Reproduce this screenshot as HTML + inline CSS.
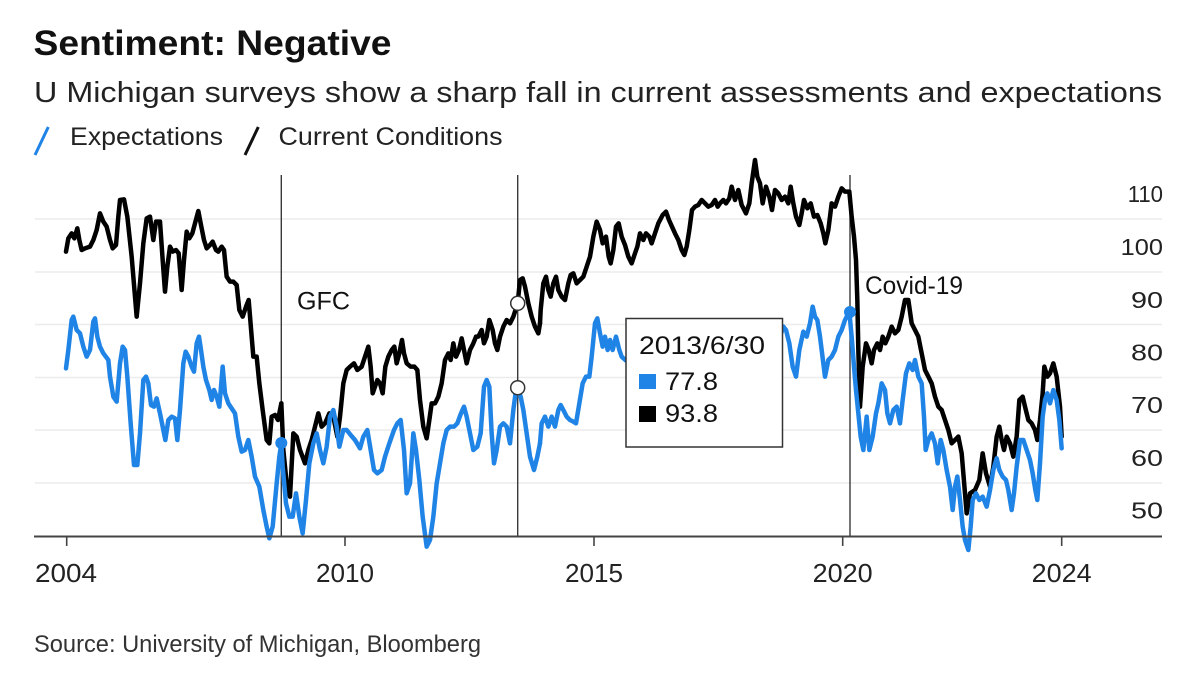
<!DOCTYPE html>
<html>
<head>
<meta charset="utf-8">
<style>
  html,body{margin:0;padding:0;background:#fff;}
  svg{display:block;}
  text{font-family:"Liberation Sans", Arial, sans-serif;}
  .ln{fill:none;stroke-width:4.5;stroke-linejoin:round;stroke-linecap:round;}
</style>
</head>
<body>
<svg width="1200" height="678" viewBox="0 0 1200 678" xmlns="http://www.w3.org/2000/svg">
  <rect x="0" y="0" width="1200" height="678" fill="#fff"/>

  <!-- Title / subtitle -->
  <text x="33.5" y="55" font-size="35" font-weight="bold" fill="#111" textLength="358" lengthAdjust="spacingAndGlyphs">Sentiment: Negative</text>
  <text x="34" y="102" font-size="29" fill="#222" textLength="1128" lengthAdjust="spacingAndGlyphs">U Michigan surveys show a sharp fall in current assessments and expectations</text>

  <!-- Legend -->
  <line x1="35" y1="155" x2="48.3" y2="127" stroke="#1f84e6" stroke-width="3"/>
  <text x="70" y="145" font-size="25" fill="#222" textLength="153" lengthAdjust="spacingAndGlyphs">Expectations</text>
  <line x1="245" y1="155" x2="258.3" y2="127" stroke="#111" stroke-width="3"/>
  <text x="278.5" y="145" font-size="25" fill="#222" textLength="224" lengthAdjust="spacingAndGlyphs">Current Conditions</text>

  <!-- Gridlines -->
  <g stroke="#ececec" stroke-width="1.5">
    <line x1="35" y1="219" x2="1162" y2="219"/>
    <line x1="35" y1="272" x2="1162" y2="272"/>
    <line x1="35" y1="324.5" x2="1162" y2="324.5"/>
    <line x1="35" y1="377.5" x2="1162" y2="377.5"/>
    <line x1="35" y1="430" x2="1162" y2="430"/>
    <line x1="35" y1="483" x2="1162" y2="483"/>
  </g>

  <!-- Y labels -->
  <g font-size="23" fill="#222" text-anchor="end">
    <text x="1163" y="202" textLength="35.3" lengthAdjust="spacingAndGlyphs">110</text>
    <text x="1163" y="255" textLength="42.3" lengthAdjust="spacingAndGlyphs">100</text>
    <text x="1163" y="308" textLength="32" lengthAdjust="spacingAndGlyphs">90</text>
    <text x="1163" y="360.5" textLength="32" lengthAdjust="spacingAndGlyphs">80</text>
    <text x="1163" y="413" textLength="32" lengthAdjust="spacingAndGlyphs">70</text>
    <text x="1163" y="466" textLength="32" lengthAdjust="spacingAndGlyphs">60</text>
    <text x="1163" y="518.5" textLength="32" lengthAdjust="spacingAndGlyphs">50</text>
  </g>

  <!-- Event vertical lines -->
  <g stroke="#3a3a3a" stroke-width="1.4">
    <line x1="281.3" y1="175" x2="281.3" y2="536"/>
    <line x1="517.7" y1="175" x2="517.7" y2="536"/>
    <line x1="850" y1="175" x2="850" y2="536"/>
  </g>

  <!-- Annotations -->
  <text x="297" y="309.5" font-size="25" fill="#111" textLength="53" lengthAdjust="spacingAndGlyphs">GFC</text>
  <text x="865" y="294" font-size="25" fill="#111" textLength="98" lengthAdjust="spacingAndGlyphs">Covid-19</text>

  <!-- Current Conditions (black) -->
  <g transform="translate(40,150) scale(0.333333)">
    <polyline class="ln" stroke="#000" vector-effect="non-scaling-stroke" points="78,305 85,265 95,250 103,265 112,235 118,270 125,300 135,295 150,290 160,270 170,240 180,190 190,215 200,230 210,270 218,295 228,285 235,200 240,150 252,148 262,200 275,320 290,500 300,400 310,280 320,205 330,200 340,270 348,215 360,215 368,330 375,425 382,350 390,290 398,305 408,300 416,310 425,420 432,330 440,245 448,265 457,250 465,220 475,183 483,225 492,270 500,295 510,285 518,275 528,300 535,305 545,290 552,300 560,380 570,395 580,395 590,405 598,480 608,500 618,470 626,450 635,560 640,620 650,620 658,700 668,780 680,870 688,880 695,800 705,795 714,810 724,760"/>
  </g>
  <g transform="translate(280,150) scale(0.333333)">
    <polyline class="ln" stroke="#000" vector-effect="non-scaling-stroke" points="4,760 10,900 20,1000 30,1040 40,850 50,860 60,900 75,940 85,900 95,870 105,830 115,790 125,830 135,820 148,790 160,800 172,860 180,800 190,700 200,660 210,650 222,640 232,660 245,650 255,620 265,590 272,650 278,730 285,710 292,690 300,700 308,730 316,650 325,620 335,600 343,590 350,640 358,610 366,570 372,610 380,640 392,650 403,650 412,660 420,750 430,830 440,865 448,810 455,760 465,760 475,740 485,700 495,630 505,610 512,630 520,580 528,620 537,600 545,565 552,600 560,640 570,600 580,580 588,560 595,560 605,540 612,580 620,560 628,510 638,540 645,580 652,600 660,560 670,530 680,510 690,520 700,500 713,460 720,390 728,385 735,410 745,460 755,500 765,530 775,550 780,520"/>
  </g>
  <g transform="translate(520,150) scale(0.333333)">
    <polyline class="ln" stroke="#000" vector-effect="non-scaling-stroke" points="60,520 62,480 70,400 78,380 85,420 92,440 100,400 108,380 115,420 125,440 135,450 145,400 152,375 160,370 170,400 180,390 190,380 200,350 210,320 220,260 230,215 240,240 248,280 258,260 266,320 272,340 280,300 288,230 296,220 305,260 315,285 325,320 335,340 345,310 352,290 360,250 370,270 378,250 388,260 395,280 405,250 415,220 428,195 438,185 447,210 456,230 465,250 475,270 485,300 493,315 500,290 508,240 516,180 525,170 535,165 545,150 555,160 565,170 575,165 585,150 593,170 600,160 610,150 618,160 628,145 635,110 645,150 655,120 665,165 678,190 688,160 695,100 705,30 712,80 720,100 728,160 738,110 748,140 756,180 765,120 775,130 780,140"/>
  </g>
  <g transform="translate(770,150) scale(0.333333)">
    <polyline class="ln" stroke="#000" vector-effect="non-scaling-stroke" points="30,140 35,150 45,140 55,160 62,110 70,160 78,200 88,225 95,190 102,150 112,175 122,160 132,200 142,195 152,220 160,250 166,280 175,240 185,160 195,170 205,140 215,115 225,125 238,125 245,200 252,260 258,330 262,450 265,600 270,770 278,650 288,580 296,600 305,640 312,600 322,580 330,600 338,560 346,580 355,560 365,530 375,550 385,540 395,500 405,450 415,450 425,520 435,540 445,560 455,610 465,660 475,680 485,700 495,740 505,770 515,780 525,810 535,840 545,880 555,870 565,860"/>
  </g>
  <g transform="translate(960,340) scale(0.333333)">
    <polyline class="ln" stroke="#000" vector-effect="non-scaling-stroke" points="-5,290 5,340 10,400 20,520 30,460 45,450 58,420 68,340 78,400 90,440 100,380 110,290 118,260 125,300 132,330 140,290 150,310 160,350 170,290 178,180 188,170 195,200 205,240 215,250 225,270 232,300 240,240 248,160 253,80 262,110 270,100 280,70 290,110 300,200 305,290"/>
  </g>

  <!-- Expectations (blue) -->
  <g transform="translate(40,150) scale(0.333333)">
    <polyline class="ln" stroke="#1f84e6" vector-effect="non-scaling-stroke" points="78,655 85,600 95,510 100,500 110,540 120,550 130,590 140,620 150,600 160,515 165,505 172,560 180,590 190,610 205,630 210,680 220,740 230,755 240,640 248,590 255,600 262,680 272,820 282,945 292,945 300,850 310,690 318,680 325,700 333,765 342,770 350,745 360,790 368,830 376,870 385,810 395,800 405,805 412,870 420,780 430,640 437,605 445,620 455,650 462,665 470,580 477,560 483,600 490,650 498,690 508,720 515,750 522,720 530,740 538,770 548,650 555,730 565,760 575,775 585,790 595,860 605,905 615,900 625,870 635,920 645,980 658,1010 670,1080 680,1130 688,1165 698,1130 710,1000 718,920 724,880"/>
  </g>
  <g transform="translate(280,150) scale(0.333333)">
    <polyline class="ln" stroke="#1f84e6" vector-effect="non-scaling-stroke" points="4,880 8,950 18,1060 28,1100 38,1100 48,1030 58,1100 68,1150 78,1050 88,940 100,880 110,850 120,900 130,940 140,890 150,800 160,780 170,830 178,890 190,840 200,840 212,855 225,870 240,895 250,860 262,840 272,900 282,960 292,970 305,960 315,920 328,880 342,840 352,820 362,810 372,900 380,1030 390,1000 400,850 408,900 418,990 428,1100 440,1190 450,1170 460,1100 470,1000 480,940 490,880 500,840 510,830 522,830 532,820 543,790 552,770 560,800 570,850 580,900 592,890 602,850 612,710 620,690 628,710 635,850 642,940 650,900 660,830 670,820 680,830 690,880 700,780 708,720 713,713 722,740 730,780 740,850 750,920 762,960 772,920 780,880"/>
  </g>
  <g transform="translate(520,150) scale(0.333333)">
    <polyline class="ln" stroke="#1f84e6" vector-effect="non-scaling-stroke" points="60,880 65,820 75,800 85,830 95,800 105,830 115,780 122,765 130,780 140,800 150,810 160,815 168,820 178,760 188,700 198,680 208,680 215,620 225,520 232,505 240,550 248,590 255,560 263,600 270,570 278,600 288,560 298,600 305,620 316,630 330,640 350,610 380,620 420,600 460,640 500,620 540,580 580,560 620,600 660,590 700,560 740,540 780,560 790,530"/>
  </g>
  <g transform="translate(770,150) scale(0.333333)">
    <polyline class="ln" stroke="#1f84e6" vector-effect="non-scaling-stroke" points="40,530 48,540 58,580 68,650 78,680 88,600 100,545 110,560 120,520 128,470 135,500 142,510 150,560 160,640 165,680 175,630 185,620 195,600 205,560 215,540 225,510 238,485 245,560 252,650 258,720 265,790 272,860 280,900 290,800 298,900 308,860 318,790 325,760 335,700 345,720 352,790 360,820 370,780 380,770 390,820 398,750 408,670 418,640 428,660 435,630 445,680 455,700 462,800 467,900 475,870 485,850 495,880 503,940 512,870 520,900 530,960 540,1010 548,1080 555,1010 562,980"/>
  </g>
  <g transform="translate(960,340) scale(0.333333)">
    <polyline class="ln" stroke="#1f84e6" vector-effect="non-scaling-stroke" points="-8,410 0,480 8,560 15,600 25,630 32,560 38,480 48,460 58,480 68,470 80,500 90,450 100,390 110,355 118,390 128,410 138,420 145,450 155,510 162,460 170,380 180,300 190,300 200,330 210,360 218,400 226,450 232,480 240,370 248,230 255,180 262,160 270,190 280,150 290,180 298,240 305,325"/>
  </g>

  <!-- Event dots -->
  <circle cx="281.3" cy="443" r="6" fill="#1f84e6"/>
  <circle cx="850" cy="312" r="6" fill="#1f84e6"/>

  <!-- Hover markers -->
  <circle cx="517.7" cy="303.3" r="7" fill="#fff" stroke="#333" stroke-width="1.5"/>
  <circle cx="517.7" cy="387.7" r="7" fill="#fff" stroke="#333" stroke-width="1.5"/>

  <!-- X axis -->
  <line x1="34" y1="536.5" x2="1162" y2="536.5" stroke="#444" stroke-width="2"/>
  <g stroke="#444" stroke-width="1.6">
    <line x1="66.7" y1="536" x2="66.7" y2="546"/>
    <line x1="345" y1="536" x2="345" y2="546"/>
    <line x1="594" y1="536" x2="594" y2="546"/>
    <line x1="842.7" y1="536" x2="842.7" y2="546"/>
    <line x1="1061.7" y1="536" x2="1061.7" y2="546"/>
  </g>
  <g font-size="26" fill="#222" text-anchor="middle">
    <text x="66" y="582" textLength="62" lengthAdjust="spacingAndGlyphs">2004</text>
    <text x="345" y="582" textLength="58" lengthAdjust="spacingAndGlyphs">2010</text>
    <text x="594" y="582" textLength="58" lengthAdjust="spacingAndGlyphs">2015</text>
    <text x="842.7" y="582" textLength="60" lengthAdjust="spacingAndGlyphs">2020</text>
    <text x="1061.7" y="582" textLength="60" lengthAdjust="spacingAndGlyphs">2024</text>
  </g>

  <!-- Tooltip -->
  <rect x="626" y="318.5" width="156.5" height="128.5" fill="#fff" stroke="#333" stroke-width="1.5"/>
  <text x="639" y="354" font-size="25" fill="#111" textLength="126" lengthAdjust="spacingAndGlyphs">2013/6/30</text>
  <rect x="639" y="374" width="17" height="15" fill="#1f84e6"/>
  <text x="665" y="390" font-size="25" fill="#111" textLength="53" lengthAdjust="spacingAndGlyphs">77.8</text>
  <rect x="639" y="406" width="17" height="16" fill="#000"/>
  <text x="665" y="422" font-size="25" fill="#111" textLength="53" lengthAdjust="spacingAndGlyphs">93.8</text>

  <!-- Source -->
  <text x="34" y="652" font-size="24" fill="#333" textLength="447" lengthAdjust="spacingAndGlyphs">Source: University of Michigan, Bloomberg</text>
</svg>
</body>
</html>
